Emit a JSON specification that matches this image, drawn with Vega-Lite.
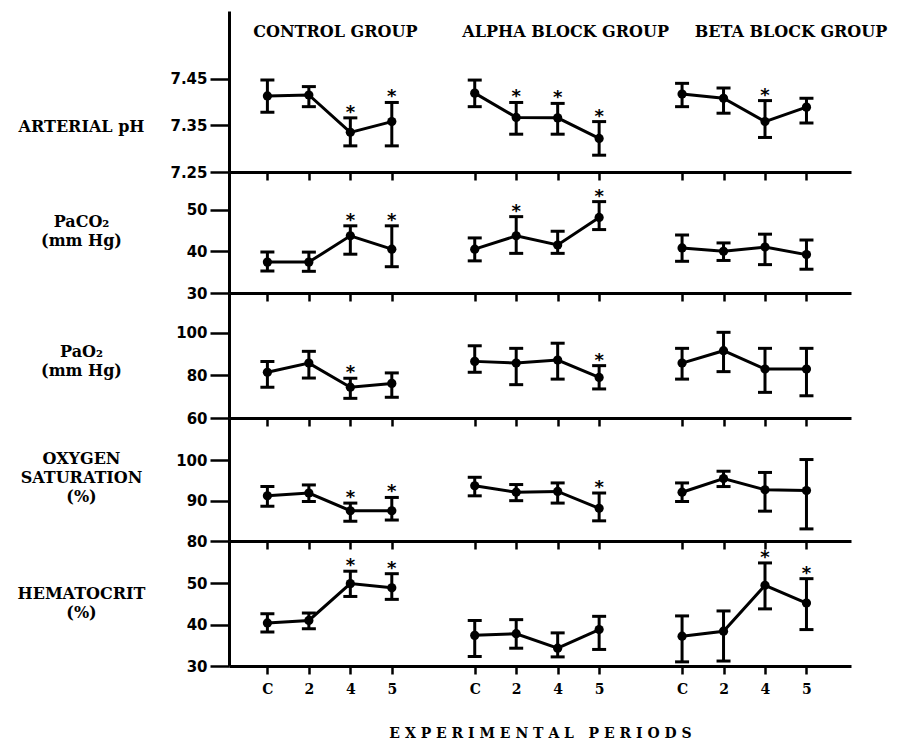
{
  "$schema": "https://vega.github.io/schema/vega-lite/v6.json",
  "background": "white",
  "padding": {"left": 17, "top": 11, "right": 2, "bottom": 2},
  "datasets": {
    "vals": [
      {"v":"pH","g":"Control","k":"Control C","m":7.413,"lo":7.378,"hi":7.447,"s":0},
      {"v":"pH","g":"Control","k":"Control 2","m":7.415,"lo":7.390,"hi":7.433,"s":0},
      {"v":"pH","g":"Control","k":"Control 4","m":7.335,"lo":7.306,"hi":7.366,"s":1},
      {"v":"pH","g":"Control","k":"Control 5","m":7.358,"lo":7.306,"hi":7.399,"s":1},
      {"v":"pH","g":"Alpha","k":"Alpha C","m":7.419,"lo":7.390,"hi":7.447,"s":0},
      {"v":"pH","g":"Alpha","k":"Alpha 2","m":7.367,"lo":7.331,"hi":7.399,"s":1},
      {"v":"pH","g":"Alpha","k":"Alpha 4","m":7.366,"lo":7.331,"hi":7.397,"s":1},
      {"v":"pH","g":"Alpha","k":"Alpha 5","m":7.322,"lo":7.286,"hi":7.358,"s":1},
      {"v":"pH","g":"Beta","k":"Beta C","m":7.417,"lo":7.390,"hi":7.440,"s":0},
      {"v":"pH","g":"Beta","k":"Beta 2","m":7.408,"lo":7.376,"hi":7.430,"s":0},
      {"v":"pH","g":"Beta","k":"Beta 4","m":7.358,"lo":7.324,"hi":7.403,"s":1},
      {"v":"pH","g":"Beta","k":"Beta 5","m":7.389,"lo":7.355,"hi":7.408,"s":0},

      {"v":"PaCO2","g":"Control","k":"Control C","m":37.4,"lo":35.3,"hi":39.8,"s":0},
      {"v":"PaCO2","g":"Control","k":"Control 2","m":37.4,"lo":35.2,"hi":39.8,"s":0},
      {"v":"PaCO2","g":"Control","k":"Control 4","m":43.7,"lo":39.3,"hi":46.1,"s":1},
      {"v":"PaCO2","g":"Control","k":"Control 5","m":40.5,"lo":36.3,"hi":46.1,"s":1},
      {"v":"PaCO2","g":"Alpha","k":"Alpha C","m":40.5,"lo":37.7,"hi":43.2,"s":0},
      {"v":"PaCO2","g":"Alpha","k":"Alpha 2","m":43.7,"lo":39.5,"hi":48.3,"s":1},
      {"v":"PaCO2","g":"Alpha","k":"Alpha 4","m":41.5,"lo":39.5,"hi":44.8,"s":0},
      {"v":"PaCO2","g":"Alpha","k":"Alpha 5","m":48.1,"lo":45.2,"hi":51.9,"s":1},
      {"v":"PaCO2","g":"Beta","k":"Beta C","m":40.8,"lo":37.6,"hi":43.9,"s":0},
      {"v":"PaCO2","g":"Beta","k":"Beta 2","m":40.0,"lo":37.8,"hi":42.0,"s":0},
      {"v":"PaCO2","g":"Beta","k":"Beta 4","m":41.0,"lo":36.8,"hi":44.1,"s":0},
      {"v":"PaCO2","g":"Beta","k":"Beta 5","m":39.2,"lo":35.7,"hi":42.7,"s":0},

      {"v":"PaO2","g":"Control","k":"Control C","m":81.4,"lo":74.4,"hi":86.5,"s":0},
      {"v":"PaO2","g":"Control","k":"Control 2","m":85.7,"lo":78.7,"hi":91.2,"s":0},
      {"v":"PaO2","g":"Control","k":"Control 4","m":74.4,"lo":69.2,"hi":78.6,"s":1},
      {"v":"PaO2","g":"Control","k":"Control 5","m":76.2,"lo":69.7,"hi":81.1,"s":0},
      {"v":"PaO2","g":"Alpha","k":"Alpha C","m":86.5,"lo":81.4,"hi":93.8,"s":0},
      {"v":"PaO2","g":"Alpha","k":"Alpha 2","m":85.7,"lo":75.6,"hi":92.6,"s":0},
      {"v":"PaO2","g":"Alpha","k":"Alpha 4","m":87.1,"lo":78.2,"hi":95.0,"s":0},
      {"v":"PaO2","g":"Alpha","k":"Alpha 5","m":79.0,"lo":73.6,"hi":84.5,"s":1},
      {"v":"PaO2","g":"Beta","k":"Beta C","m":85.7,"lo":78.2,"hi":92.6,"s":0},
      {"v":"PaO2","g":"Beta","k":"Beta 2","m":91.5,"lo":81.7,"hi":100.1,"s":0},
      {"v":"PaO2","g":"Beta","k":"Beta 4","m":82.9,"lo":72.0,"hi":92.6,"s":0},
      {"v":"PaO2","g":"Beta","k":"Beta 5","m":82.9,"lo":70.4,"hi":92.6,"s":0},

      {"v":"O2","g":"Control","k":"Control C","m":91.2,"lo":88.6,"hi":93.5,"s":0},
      {"v":"O2","g":"Control","k":"Control 2","m":91.9,"lo":89.8,"hi":93.9,"s":0},
      {"v":"O2","g":"Control","k":"Control 4","m":87.5,"lo":84.9,"hi":89.4,"s":1},
      {"v":"O2","g":"Control","k":"Control 5","m":87.5,"lo":85.2,"hi":90.8,"s":1},
      {"v":"O2","g":"Alpha","k":"Alpha C","m":93.7,"lo":91.2,"hi":95.8,"s":0},
      {"v":"O2","g":"Alpha","k":"Alpha 2","m":92.1,"lo":90.0,"hi":94.0,"s":0},
      {"v":"O2","g":"Alpha","k":"Alpha 4","m":92.3,"lo":89.4,"hi":94.4,"s":0},
      {"v":"O2","g":"Alpha","k":"Alpha 5","m":88.1,"lo":85.0,"hi":91.9,"s":1},
      {"v":"O2","g":"Beta","k":"Beta C","m":92.1,"lo":89.8,"hi":94.4,"s":0},
      {"v":"O2","g":"Beta","k":"Beta 2","m":95.5,"lo":93.5,"hi":97.3,"s":0},
      {"v":"O2","g":"Beta","k":"Beta 4","m":92.7,"lo":87.4,"hi":97.0,"s":0},
      {"v":"O2","g":"Beta","k":"Beta 5","m":92.5,"lo":83.0,"hi":100.2,"s":0},

      {"v":"Hct","g":"Control","k":"Control C","m":40.4,"lo":38.2,"hi":42.6,"s":0},
      {"v":"Hct","g":"Control","k":"Control 2","m":41.0,"lo":39.0,"hi":42.8,"s":0},
      {"v":"Hct","g":"Control","k":"Control 4","m":49.9,"lo":46.8,"hi":52.9,"s":1},
      {"v":"Hct","g":"Control","k":"Control 5","m":48.9,"lo":46.1,"hi":52.3,"s":1},
      {"v":"Hct","g":"Alpha","k":"Alpha C","m":37.4,"lo":32.3,"hi":41.0,"s":0},
      {"v":"Hct","g":"Alpha","k":"Alpha 2","m":37.8,"lo":34.3,"hi":41.2,"s":0},
      {"v":"Hct","g":"Alpha","k":"Alpha 4","m":34.3,"lo":32.2,"hi":38.0,"s":0},
      {"v":"Hct","g":"Alpha","k":"Alpha 5","m":38.8,"lo":34.0,"hi":42.0,"s":0},
      {"v":"Hct","g":"Beta","k":"Beta C","m":37.2,"lo":31.0,"hi":42.1,"s":0},
      {"v":"Hct","g":"Beta","k":"Beta 2","m":38.4,"lo":31.2,"hi":43.3,"s":0},
      {"v":"Hct","g":"Beta","k":"Beta 4","m":49.5,"lo":43.8,"hi":54.9,"s":1},
      {"v":"Hct","g":"Beta","k":"Beta 5","m":45.2,"lo":38.8,"hi":51.1,"s":1}
    ],
    "headers": [
      {"h":"CONTROL GROUP","k":"Control 4"},
      {"h":"ALPHA BLOCK GROUP","k":"Alpha 4"},
      {"h":"BETA BLOCK GROUP","k":"Beta 4"}
    ]
  },
  "data": {"name": "vals"},
  "spacing": 0,
  "bounds": "flush",
  "resolve": {"scale": {"y": "independent"}, "axis": {"x": "independent", "y": "independent"}},
  "vconcat": [
    {
      "width": 622, "height": 161,
      "transform": [{"filter": "datum.v === 'pH'"}],
      "encoding": {
        "x": {"field": "k", "type": "ordinal",
          "scale": {"type": "point", "padding": 1.025, "align": 0.463,
            "domain": ["Control C","Control 2","Control 4","Control 5","gap1","Alpha C","Alpha 2","Alpha 4","Alpha 5","gap2","Beta C","Beta 2","Beta 4","Beta 5"]},
          "axis": {"values": ["Control C","Control 2","Control 4","Control 5","Alpha C","Alpha 2","Alpha 4","Alpha 5","Beta C","Beta 2","Beta 4","Beta 5"]}}
      },
      "layer": [
        {"mark": {"type": "rule", "strokeWidth": 3, "color": "black"},
         "encoding": {"y": {"field": "lo", "type": "quantitative", "scale": {"domain": [7.25, 7.595], "nice": false, "zero": false},
           "axis": {"title": "ARTERIAL pH", "titleY": 115, "values": [7.25, 7.35, 7.45], "format": ".2f"}},
           "y2": {"field": "hi"}}},
        {"mark": {"type": "tick", "orient": "horizontal", "size": 14, "thickness": 3, "color": "black", "opacity": 1},
         "encoding": {"y": {"field": "lo", "type": "quantitative"}}},
        {"mark": {"type": "tick", "orient": "horizontal", "size": 14, "thickness": 3, "color": "black", "opacity": 1},
         "encoding": {"y": {"field": "hi", "type": "quantitative"}}},
        {"mark": {"type": "line", "strokeWidth": 3, "color": "black"},
         "encoding": {"y": {"field": "m", "type": "quantitative"}, "detail": {"field": "g"}, "order": {"value": null}}},
        {"mark": {"type": "point", "filled": true, "size": 85, "opacity": 1, "color": "black"},
         "encoding": {"y": {"field": "m", "type": "quantitative"}}},
        {"transform": [{"filter": "datum.s === 1"}],
         "mark": {"type": "text", "text": "*", "font": "DejaVu Sans", "fontWeight": "bold", "fontSize": 18, "baseline": "middle", "dy": -5, "color": "black"},
         "encoding": {"y": {"field": "hi", "type": "quantitative"}}},
        {"data": {"name": "headers"}, "transform": [{"filter": "datum.h === 'CONTROL GROUP'"}],
         "mark": {"type": "text", "font": "DejaVu Serif", "fontWeight": "bold", "fontSize": 16, "align": "center", "baseline": "middle", "dx": -15, "color": "black"},
         "encoding": {"y": {"datum": 7.55, "type": "quantitative"}, "text": {"field": "h"}}},
        {"data": {"name": "headers"}, "transform": [{"filter": "datum.h === 'ALPHA BLOCK GROUP'"}],
         "mark": {"type": "text", "font": "DejaVu Serif", "fontWeight": "bold", "fontSize": 16, "align": "center", "baseline": "middle", "dx": 8, "color": "black"},
         "encoding": {"y": {"datum": 7.55, "type": "quantitative"}, "text": {"field": "h"}}},
        {"data": {"name": "headers"}, "transform": [{"filter": "datum.h === 'BETA BLOCK GROUP'"}],
         "mark": {"type": "text", "font": "DejaVu Serif", "fontWeight": "bold", "fontSize": 16, "align": "center", "baseline": "middle", "dx": 26, "color": "black"},
         "encoding": {"y": {"datum": 7.55, "type": "quantitative"}, "text": {"field": "h"}}}
      ]
    },
    {
      "width": 622, "height": 121,
      "transform": [{"filter": "datum.v === 'PaCO2'"}],
      "encoding": {
        "x": {"field": "k", "type": "ordinal",
          "scale": {"type": "point", "padding": 1.025, "align": 0.463,
            "domain": ["Control C","Control 2","Control 4","Control 5","gap1","Alpha C","Alpha 2","Alpha 4","Alpha 5","gap2","Beta C","Beta 2","Beta 4","Beta 5"]},
          "axis": {"values": ["Control C","Control 2","Control 4","Control 5","Alpha C","Alpha 2","Alpha 4","Alpha 5","Beta C","Beta 2","Beta 4","Beta 5"]}}
      },
      "layer": [
        {"mark": {"type": "rule", "strokeWidth": 3, "color": "black"},
         "encoding": {"y": {"field": "lo", "type": "quantitative", "scale": {"domain": [30, 59], "nice": false, "zero": false},
           "axis": {"title": ["PaCO₂", "(mm Hg)"], "titleY": 49, "values": [30, 40, 50]}},
           "y2": {"field": "hi"}}},
        {"mark": {"type": "tick", "orient": "horizontal", "size": 14, "thickness": 3, "color": "black", "opacity": 1},
         "encoding": {"y": {"field": "lo", "type": "quantitative"}}},
        {"mark": {"type": "tick", "orient": "horizontal", "size": 14, "thickness": 3, "color": "black", "opacity": 1},
         "encoding": {"y": {"field": "hi", "type": "quantitative"}}},
        {"mark": {"type": "line", "strokeWidth": 3, "color": "black"},
         "encoding": {"y": {"field": "m", "type": "quantitative"}, "detail": {"field": "g"}, "order": {"value": null}}},
        {"mark": {"type": "point", "filled": true, "size": 85, "opacity": 1, "color": "black"},
         "encoding": {"y": {"field": "m", "type": "quantitative"}}},
        {"transform": [{"filter": "datum.s === 1"}],
         "mark": {"type": "text", "text": "*", "font": "DejaVu Sans", "fontWeight": "bold", "fontSize": 18, "baseline": "middle", "dy": -5, "color": "black"},
         "encoding": {"y": {"field": "hi", "type": "quantitative"}}}
      ]
    },
    {
      "width": 622, "height": 125,
      "transform": [{"filter": "datum.v === 'PaO2'"}],
      "encoding": {
        "x": {"field": "k", "type": "ordinal",
          "scale": {"type": "point", "padding": 1.025, "align": 0.463,
            "domain": ["Control C","Control 2","Control 4","Control 5","gap1","Alpha C","Alpha 2","Alpha 4","Alpha 5","gap2","Beta C","Beta 2","Beta 4","Beta 5"]},
          "axis": {"values": ["Control C","Control 2","Control 4","Control 5","Alpha C","Alpha 2","Alpha 4","Alpha 5","Beta C","Beta 2","Beta 4","Beta 5"]}}
      },
      "layer": [
        {"mark": {"type": "rule", "strokeWidth": 3, "color": "black"},
         "encoding": {"y": {"field": "lo", "type": "quantitative", "scale": {"domain": [60, 118.5], "nice": false, "zero": false},
           "axis": {"title": ["PaO₂", "(mm Hg)"], "titleY": 58, "values": [60, 80, 100]}},
           "y2": {"field": "hi"}}},
        {"mark": {"type": "tick", "orient": "horizontal", "size": 14, "thickness": 3, "color": "black", "opacity": 1},
         "encoding": {"y": {"field": "lo", "type": "quantitative"}}},
        {"mark": {"type": "tick", "orient": "horizontal", "size": 14, "thickness": 3, "color": "black", "opacity": 1},
         "encoding": {"y": {"field": "hi", "type": "quantitative"}}},
        {"mark": {"type": "line", "strokeWidth": 3, "color": "black"},
         "encoding": {"y": {"field": "m", "type": "quantitative"}, "detail": {"field": "g"}, "order": {"value": null}}},
        {"mark": {"type": "point", "filled": true, "size": 85, "opacity": 1, "color": "black"},
         "encoding": {"y": {"field": "m", "type": "quantitative"}}},
        {"transform": [{"filter": "datum.s === 1"}],
         "mark": {"type": "text", "text": "*", "font": "DejaVu Sans", "fontWeight": "bold", "fontSize": 18, "baseline": "middle", "dy": -5, "color": "black"},
         "encoding": {"y": {"field": "hi", "type": "quantitative"}}}
      ]
    },
    {
      "width": 622, "height": 123,
      "transform": [{"filter": "datum.v === 'O2'"}],
      "encoding": {
        "x": {"field": "k", "type": "ordinal",
          "scale": {"type": "point", "padding": 1.025, "align": 0.463,
            "domain": ["Control C","Control 2","Control 4","Control 5","gap1","Alpha C","Alpha 2","Alpha 4","Alpha 5","gap2","Beta C","Beta 2","Beta 4","Beta 5"]},
          "axis": {"values": ["Control C","Control 2","Control 4","Control 5","Alpha C","Alpha 2","Alpha 4","Alpha 5","Beta C","Beta 2","Beta 4","Beta 5"]}}
      },
      "layer": [
        {"mark": {"type": "rule", "strokeWidth": 3, "color": "black"},
         "encoding": {"y": {"field": "lo", "type": "quantitative", "scale": {"domain": [80, 110.5], "nice": false, "zero": false},
           "axis": {"title": ["OXYGEN", "SATURATION", "(%)"], "titleY": 40, "values": [80, 90, 100]}},
           "y2": {"field": "hi"}}},
        {"mark": {"type": "tick", "orient": "horizontal", "size": 14, "thickness": 3, "color": "black", "opacity": 1},
         "encoding": {"y": {"field": "lo", "type": "quantitative"}}},
        {"mark": {"type": "tick", "orient": "horizontal", "size": 14, "thickness": 3, "color": "black", "opacity": 1},
         "encoding": {"y": {"field": "hi", "type": "quantitative"}}},
        {"mark": {"type": "line", "strokeWidth": 3, "color": "black"},
         "encoding": {"y": {"field": "m", "type": "quantitative"}, "detail": {"field": "g"}, "order": {"value": null}}},
        {"mark": {"type": "point", "filled": true, "size": 85, "opacity": 1, "color": "black"},
         "encoding": {"y": {"field": "m", "type": "quantitative"}}},
        {"transform": [{"filter": "datum.s === 1"}],
         "mark": {"type": "text", "text": "*", "font": "DejaVu Sans", "fontWeight": "bold", "fontSize": 18, "baseline": "middle", "dy": -5, "color": "black"},
         "encoding": {"y": {"field": "hi", "type": "quantitative"}}}
      ]
    },
    {
      "width": 622, "height": 125,
      "transform": [{"filter": "datum.v === 'Hct'"}],
      "encoding": {
        "x": {"field": "k", "type": "ordinal",
          "scale": {"type": "point", "padding": 1.025, "align": 0.463,
            "domain": ["Control C","Control 2","Control 4","Control 5","gap1","Alpha C","Alpha 2","Alpha 4","Alpha 5","gap2","Beta C","Beta 2","Beta 4","Beta 5"]},
          "axis": {"values": ["Control C","Control 2","Control 4","Control 5","Alpha C","Alpha 2","Alpha 4","Alpha 5","Beta C","Beta 2","Beta 4","Beta 5"],
            "labels": true, "labelExpr": "slice(datum.label, -1)", "labelAngle": 0, "labelFont": "DejaVu Serif", "labelFontWeight": "bold", "labelFontSize": 14, "labelPadding": 8,
            "title": "E X P E R I M E N T A L\u00a0\u00a0 P E R I O D S", "titleFont": "DejaVu Serif", "titleFontWeight": "bold", "titleFontSize": 14, "titlePadding": 30}}
      },
      "layer": [
        {"mark": {"type": "rule", "strokeWidth": 3, "color": "black"},
         "encoding": {"y": {"field": "lo", "type": "quantitative", "scale": {"domain": [30, 60.2], "nice": false, "zero": false},
           "axis": {"title": ["HEMATOCRIT", "(%)"], "titleY": 52, "values": [30, 40, 50]}},
           "y2": {"field": "hi"}}},
        {"mark": {"type": "tick", "orient": "horizontal", "size": 14, "thickness": 3, "color": "black", "opacity": 1},
         "encoding": {"y": {"field": "lo", "type": "quantitative"}}},
        {"mark": {"type": "tick", "orient": "horizontal", "size": 14, "thickness": 3, "color": "black", "opacity": 1},
         "encoding": {"y": {"field": "hi", "type": "quantitative"}}},
        {"mark": {"type": "line", "strokeWidth": 3, "color": "black"},
         "encoding": {"y": {"field": "m", "type": "quantitative"}, "detail": {"field": "g"}, "order": {"value": null}}},
        {"mark": {"type": "point", "filled": true, "size": 85, "opacity": 1, "color": "black"},
         "encoding": {"y": {"field": "m", "type": "quantitative"}}},
        {"transform": [{"filter": "datum.s === 1"}],
         "mark": {"type": "text", "text": "*", "font": "DejaVu Sans", "fontWeight": "bold", "fontSize": 18, "baseline": "middle", "dy": -5, "color": "black"},
         "encoding": {"y": {"field": "hi", "type": "quantitative"}}}
      ]
    }
  ],
  "config": {
    "view": {"stroke": null},
    "axis": {"domainColor": "black", "domainWidth": 3, "tickColor": "black", "grid": false, "labelColor": "black", "titleColor": "black"},
    "axisY": {"tickSize": 19, "tickWidth": 2.5, "labelFont": "DejaVu Sans", "labelFontWeight": "bold", "labelFontSize": 15, "labelPadding": 3,
      "titleAngle": 0, "titleAlign": "center", "titleBaseline": "middle", "titleX": -148, "titleFont": "DejaVu Serif", "titleFontWeight": "bold", "titleFontSize": 16, "titleLineHeight": 19},
    "axisX": {"tickSize": 8, "tickWidth": 2.5, "labels": false, "title": null}
  }
}
